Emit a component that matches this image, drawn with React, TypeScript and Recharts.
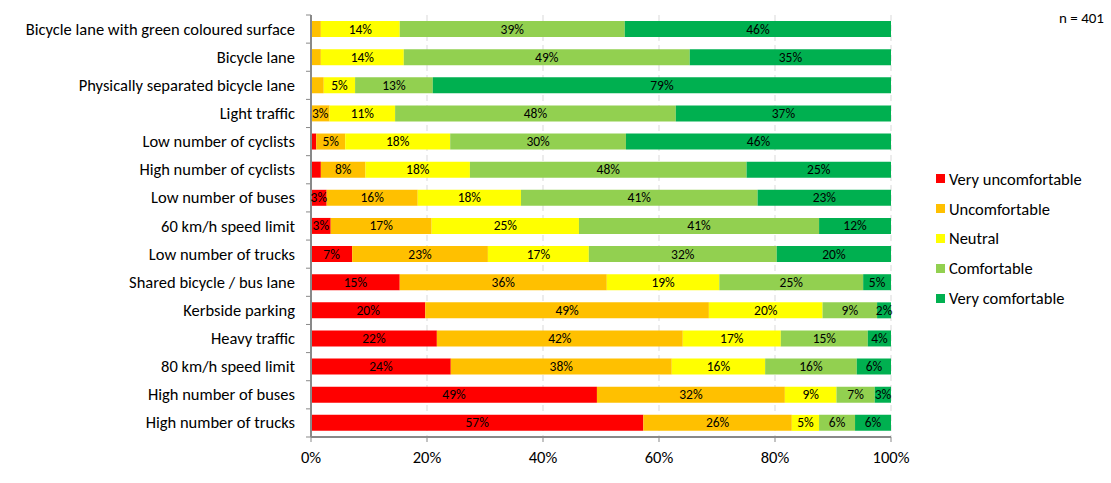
import { BarChart, Bar, XAxis, YAxis, CartesianGrid, LabelList } from 'recharts';

const categories = [
  'Bicycle lane with green coloured surface',
  'Bicycle lane',
  'Physically separated bicycle lane',
  'Light traffic',
  'Low number of cyclists',
  'High number of cyclists',
  'Low number of buses',
  '60 km/h speed limit',
  'Low number of trucks',
  'Shared bicycle / bus lane',
  'Kerbside parking',
  'Heavy traffic',
  '80 km/h speed limit',
  'High number of buses',
  'High number of trucks',
];

const veryUncomfortable = [0, 0, 0, 0, 0.9, 1.7, 2.7, 3.4, 7.1, 15.3, 19.7, 21.7, 24.1, 49.3, 57.3];
const uncomfortable = [1.7, 1.7, 2.2, 3.2, 5.0, 7.7, 15.7, 17.4, 23.4, 35.7, 48.9, 42.4, 38.1, 32.4, 25.6];
const neutral = [13.6, 14.3, 5.4, 11.3, 18.1, 18.0, 17.8, 25.4, 17.4, 19.4, 19.6, 16.9, 16.1, 8.9, 4.7];
const comfortable = [38.8, 49.3, 13.4, 48.4, 30.3, 47.7, 40.8, 41.4, 32.4, 24.8, 9.4, 15.0, 15.8, 6.6, 6.2];
const veryComfortable = [45.9, 34.7, 79.0, 37.1, 45.7, 24.9, 23.0, 12.4, 19.7, 4.8, 2.4, 4.0, 5.9, 2.8, 6.2];

const xTicks = [0, 20, 40, 60, 80, 100];

const series = [
  { key: 'vu', name: 'Very uncomfortable', color: '#FF0000', values: veryUncomfortable },
  { key: 'u', name: 'Uncomfortable', color: '#FFC000', values: uncomfortable },
  { key: 'n', name: 'Neutral', color: '#FFFF00', values: neutral },
  { key: 'c', name: 'Comfortable', color: '#92D050', values: comfortable },
  { key: 'vc', name: 'Very comfortable', color: '#00B050', values: veryComfortable },
];

const data = categories.map((name, i) => {
  const row: Record<string, any> = { name };
  series.forEach((s) => (row[s.key] = s.values[i]));
  return row;
});

const FONT = 'Carlito, Calibri, Lato, sans-serif';
const W = 1111;
const H = 483;
const TOP = 15;
const XAXIS_H = 46;
const HALF_BAND = (H - TOP - XAXIS_H) / categories.length / 2;

const YTick = (props: any) => {
  const { x, y, payload, index } = props;
  const ax = x + 16;
  return (
    <g>
      <text x={x} y={y} dy={5.5} textAnchor="end" fontSize={16.5} fill="#000" fontFamily={FONT}>
        {payload.value}
      </text>
      <line x1={ax - 5} x2={ax} y1={y - HALF_BAND} y2={y - HALF_BAND} stroke="#898989" />
      {index === categories.length - 1 && (
        <line x1={ax - 5} x2={ax} y1={y + HALF_BAND} y2={y + HALF_BAND} stroke="#898989" />
      )}
    </g>
  );
};

// small segments carry no label in the original
const SegLabel = (props: any) => {
  const { x, y, width, height, value } = props;
  if (value == null || value < 2.3) return null;
  return (
    <text
      x={x + width / 2}
      y={y + height / 2}
      dy={4.5}
      textAnchor="middle"
      fontSize={13.5}
      fill="#000"
      fontFamily={FONT}
    >
      {Math.round(value)}%
    </text>
  );
};

export default function App() {
  return (
    <div style={{ position: 'absolute', left: 0, top: 0, width: W, height: H, background: '#fff' }}>
      <BarChart
        width={W}
        height={H}
        data={data}
        layout="vertical"
        margin={{ top: TOP, right: 220, left: 0, bottom: 0 }}
        barSize={16}
      >
        <CartesianGrid horizontal={false} stroke="#d9d9d9" strokeDasharray="6 4" />
        <XAxis
          type="number"
          domain={[0, 100]}
          ticks={xTicks}
          tickFormatter={(v) => `${v}%`}
          height={XAXIS_H}
          tickSize={5}
          tickMargin={9}
          axisLine={{ stroke: '#898989', strokeWidth: 2 }}
          tickLine={{ stroke: '#898989' }}
          tick={{ fontSize: 16.5, fill: '#000', fontFamily: FONT }}
          allowDataOverflow
        />
        <YAxis
          type="category"
          dataKey="name"
          width={311}
          tickSize={6}
          tickMargin={10}
          tickLine={false}
          axisLine={{ stroke: '#898989', strokeWidth: 2 }}
          tick={<YTick />}
          interval={0}
        />
        {series.map((s) => (
          <Bar key={s.key} dataKey={s.key} name={s.name} stackId="a" fill={s.color} isAnimationActive={false}>
            <LabelList dataKey={s.key} content={<SegLabel />} />
          </Bar>
        ))}
      </BarChart>
      <div style={{ position: 'absolute', left: 936, top: 164, fontFamily: FONT, fontSize: 16.5, color: '#000' }}>
        {series.map((s) => (
          <div key={s.key} style={{ display: 'flex', alignItems: 'center', height: 29.8 }}>
            <span style={{ width: 9, height: 9, background: s.color, marginRight: 4, display: 'inline-block' }} />
            <span>{s.name}</span>
          </div>
        ))}
      </div>
      <div
        style={{
          position: 'absolute',
          left: 1059,
          top: 9,
          fontFamily: FONT,
          fontSize: 15,
          color: '#000',
        }}
      >
        n = 401
      </div>
    </div>
  );
}
